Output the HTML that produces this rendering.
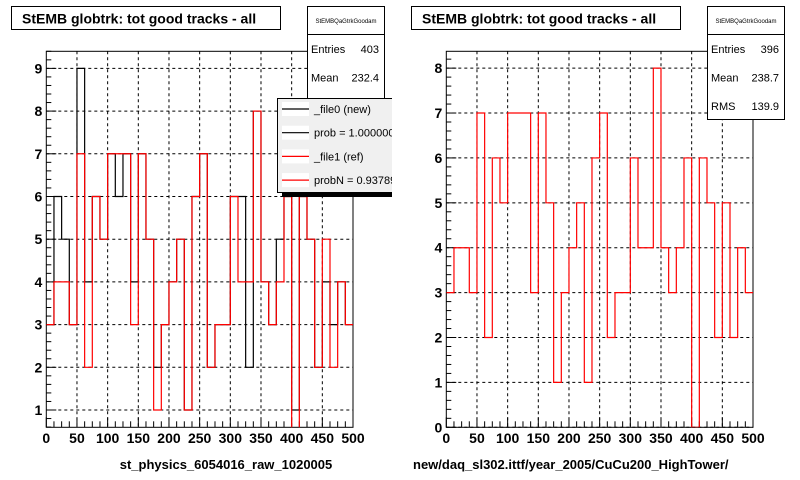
<!DOCTYPE html>
<html><head><meta charset="utf-8"><style>
body{margin:0;background:#fff;}
svg{display:block;font-family:"Liberation Sans",sans-serif;}
</style></head><body>
<svg id="c" width="800" height="480" viewBox="0 0 800 480">
<defs>
<clipPath id="padL"><rect x="0" y="0" width="392" height="480"/></clipPath>
<clipPath id="frL"><rect x="46.3" y="51.3" width="306.7" height="376"/></clipPath>
<clipPath id="frR"><rect x="446.3" y="51.3" width="306.7" height="376"/></clipPath>
</defs>
<g id="left" clip-path="url(#padL)"></g>
<g id="right"></g>
</svg>
<script>
const binEdges = [0,12.5,25,37.5,50,62.5,75,87.5,100,112.5,125,137.5,150,162.5,175,187.5,200,212.5,225,237.5,250,262.5,275,287.5,300,312.5,325,337.5,350,362.5,375,387.5,400,412.5,425,437.5,450,462.5,475,487.5,500];
const refValues = [3,4,4,3,7,2,6,5,7,7,7,3,7,5,1,3,4,5,1,6,7,2,3,3,6,4,4,8,4,3,4,6,0,6,5,2,5,2,4,3];
const newValues = [3,6,5,3,9,4,6,5,7,6,7,4,7,5,2,3,4,5,1,6,7,2,3,3,6,6,2,8,4,3,5,6,1,6,5,2,4,3,4,3];
const xTicks = [0,50,100,150,200,250,300,350,400,450,500];
const yTicksLeft = [1,2,3,4,5,6,7,8,9];
const yTicksRight = [0,1,2,3,4,5,6,7,8];

const NS="http://www.w3.org/2000/svg";
function mk(parent,tag,attrs,text){const e=document.createElementNS(NS,tag);for(const k in attrs)e.setAttribute(k,attrs[k]);if(text!==undefined)e.textContent=text;parent.appendChild(e);return e;}

function drawPad(g,ox,yMin,yMax,yTicks,series,clipId,xTitle,xTitleX,xTitleAnchor,stats){
  const L=ox+46.3,R=ox+753-400,T=51.3,B=427.3;
  const X=v=>L+(v-0)/(500-0)*(R-L);
  const Y=v=>B-(v-yMin)/(yMax-yMin)*(B-T);
  const tb=mk(g,'rect',{x:ox+11.5,y:6.5,width:269,height:23,fill:'#fff',stroke:'#000'});
  
  const tt=mk(g,'text',{x:ox+22,y:23.5,'font-size':'14','font-weight':'bold'},'StEMB globtrk: tot good tracks - all');
  
  mk(g,'rect',{x:L,y:T,width:R-L,height:B-T,fill:'#fff',stroke:'#000'});
  const grid=mk(g,'g',{stroke:'#000','stroke-dasharray':'3,3','stroke-width':'1'});
  
  xTicks.forEach(v=>{if(v>0&&v<500)mk(grid,'line',{x1:X(v),x2:X(v),y1:T,y2:B});});
  yTicks.forEach(v=>mk(grid,'line',{x1:L,x2:R,y1:Y(v),y2:Y(v)}));
  const tk=mk(g,'g',{stroke:'#000'});
  for(let v=0;v<=500;v+=12.5){const major=v%50===0;mk(tk,'line',{x1:X(v),x2:X(v),y1:B,y2:B-(major?10:6)});}
  for(let v=Math.ceil(yMin*5)/5;v<=yMax;v+=0.2){const r=Math.round(v*5)/5;const major=Math.abs(r-Math.round(r))<1e-6;mk(tk,'line',{x1:L,x2:L+(major?10:5),y1:Y(r),y2:Y(r)});}
  const xl=mk(g,'g',{'font-size':'14','font-weight':'bold','text-anchor':'middle'});
  
  xTicks.forEach(v=>mk(xl,'text',{x:X(v),y:443},String(v)));
  const yl=mk(g,'g',{'font-size':'14','font-weight':'bold','text-anchor':'end'});
  
  yTicks.forEach(v=>mk(yl,'text',{x:L-4,y:Y(v)+5},String(v)));
  const sg=mk(g,'g',{'clip-path':'url(#'+clipId+')',fill:'none','stroke-width':'1.2'});
  series.forEach(s=>{
    let d='M'+X(binEdges[0])+' '+Y(s.vals[0]);
    for(let i=0;i<s.vals.length;i++){d+=' L'+X(binEdges[i])+' '+Y(s.vals[i])+' L'+X(binEdges[i+1])+' '+Y(s.vals[i]);}
    const p=mk(sg,'path',{d:d,stroke:s.color});
    
  });
  const xt=mk(g,'text',{x:xTitleX,y:469,'font-size':'13','font-weight':'bold','text-anchor':xTitleAnchor},xTitle);
  
  const sb=mk(g,'g',{});
  
  mk(sb,'rect',{x:ox+307.5,y:6.5,width:77,height:stats.h,fill:'#fff',stroke:'#000'});
  mk(sb,'line',{x1:ox+307.5,x2:ox+384.5,y1:34.5,y2:34.5,stroke:'#000'});
  mk(sb,'text',{x:ox+346,y:23,'font-size':'6','text-anchor':'middle'},'StEMBQaGtrkGoodam');
  stats.rows.forEach((r,i)=>{const yy=53+i*28.5;mk(sb,'text',{x:ox+311,y:yy,'font-size':'11'},r[0]);mk(sb,'text',{x:ox+379,y:yy,'font-size':'11','text-anchor':'end'},r[1]);});
}

const left=document.getElementById('left');
drawPad(left,0,0.595,9.4,yTicksLeft,[{vals:newValues,color:'#000',name:'series-new'},{vals:refValues,color:'#f00',name:'series-ref'}],'frL','st_physics_6054016_raw_1020005',226,'middle',{h:110,rows:[['Entries','403'],['Mean','232.4'],['RMS','']]});
const lg=mk(left,'g',{});

mk(lg,'rect',{x:282,y:192,width:120,height:5,fill:'#000'});
mk(lg,'rect',{x:277.5,y:98.5,width:125,height:94,fill:'#f0f0f0',stroke:'#000'});
[['_file0 (new)','#000'],['prob = 1.000000','#000'],['_file1 (ref)','#f00'],['probN = 0.937890','#f00']].forEach((e,i)=>{
  const yy=109+i*23.7;
  const en=mk(lg,'g',{});
  
  mk(en,'rect',{x:282,y:yy-7,width:27,height:14,fill:'#fff'});
  mk(en,'line',{x1:282,x2:309,y1:yy,y2:yy,stroke:e[1],'stroke-width':'1.2'});
  mk(en,'text',{x:314,y:yy+4,'font-size':'11'},e[0]);
});

const right=document.getElementById('right');
drawPad(right,400,0,8.375,yTicksRight,[{vals:refValues,color:'#f00',name:'series-ref'}],'frR','new/daq_sl302.ittf/year_2005/CuCu200_HighTower/',413,'start',{h:113,rows:[['Entries','396'],['Mean','238.7'],['RMS','139.9']]});
</script>
</body></html>
